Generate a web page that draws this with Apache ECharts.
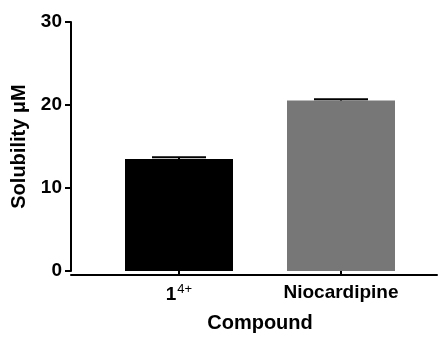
<!DOCTYPE html>
<html>
<head>
<meta charset="utf-8">
<script src="https://cdn.jsdelivr.net/npm/echarts@6/dist/echarts.min.js"></script>
<style>html,body{margin:0;padding:0;background:#fff}#c{width:438px;height:338px}</style>
</head>
<body>
<div id="c"></div>
<script>
const categories = ['1', 'Niocardipine'];
const superscripts = ['4+', ''];
const means = [13.5, 20.55];
const errors = [0.2, 0.15];
const barColors = ['#000000', '#777777'];
const yTicks = [0, 10, 20, 30];

const FONT = '"Liberation Sans", Arial, sans-serif';
const chart = echarts.init(document.getElementById('c'), null, {renderer: 'canvas'});
const errData = categories.map((c, i) => [i, means[i], errors[i]]);

chart.setOption({
  animation: false,
  grid: [
    {left: 98, right: 16, top: 22, bottom: 63},
    {left: 71, right: 1, top: 22, bottom: 63}
  ],
  xAxis: [{
    type: 'category',
    gridIndex: 0,
    data: categories,
    axisLine: {show: false},
    axisTick: {show: true, alignWithLabel: true, length: 5, lineStyle: {color: '#000', width: 2}},
    axisLabel: {
      margin: 12,
      formatter: function (v, i) {
        return superscripts[i] ? '{b|' + v + '}{s|' + superscripts[i] + '}' : '{b|' + v + '}';
      },
      rich: {
        b: {fontFamily: FONT, fontWeight: 'bold', fontSize: 19, color: '#000'},
        s: {fontFamily: FONT, fontSize: 13, color: '#000', padding: [0, 0, 11, 1]}
      }
    },
    name: 'Compound',
    nameLocation: 'middle',
    nameGap: 42,
    nameTextStyle: {fontFamily: FONT, fontWeight: 'bold', fontSize: 20, color: '#000'}
  }, {
    type: 'value',
    gridIndex: 1,
    min: 0, max: 1,
    axisLine: {show: true, onZero: false, lineStyle: {color: '#000', width: 2}},
    axisTick: {show: false},
    axisLabel: {show: false},
    splitLine: {show: false}
  }],
  yAxis: [{
    type: 'value',
    gridIndex: 0,
    min: yTicks[0], max: yTicks[yTicks.length - 1], interval: 10,
    offset: 27,
    axisLine: {show: true, lineStyle: {color: '#000', width: 2}},
    axisTick: {show: true, length: 6, lineStyle: {color: '#000', width: 2}},
    axisLabel: {margin: 9, fontFamily: FONT, fontWeight: 'bold', fontSize: 19, color: '#000'},
    splitLine: {show: false},
    name: 'Solubility μM',
    nameLocation: 'middle',
    nameGap: 36,
    nameTextStyle: {fontFamily: FONT, fontWeight: 'bold', fontSize: 20, color: '#000'}
  }, {
    type: 'value', gridIndex: 1, show: false, min: 0, max: 1
  }],
  series: [{
    type: 'bar',
    xAxisIndex: 0, yAxisIndex: 0,
    barWidth: 108,
    data: means.map((v, i) => ({value: v, itemStyle: {color: barColors[i]}}))
  }, {
    type: 'custom',
    xAxisIndex: 0, yAxisIndex: 0,
    data: errData,
    z: 5,
    renderItem: function (params, api) {
      const x = api.value(0);
      const m = api.value(1);
      const e = api.value(2);
      const p0 = api.coord([x, m]);
      const p1 = api.coord([x, m + e]);
      const half = api.size([1, 0])[0] / 6;
      return {
        type: 'group',
        children: [
          {type: 'line', shape: {x1: p0[0], y1: p0[1], x2: p1[0], y2: p1[1]}, style: {stroke: '#000', lineWidth: 2}},
          {type: 'line', shape: {x1: p1[0] - half, y1: p1[1], x2: p1[0] + half, y2: p1[1]}, style: {stroke: '#000', lineWidth: 2}}
        ]
      };
    }
  }]
});
</script>
</body>
</html>
